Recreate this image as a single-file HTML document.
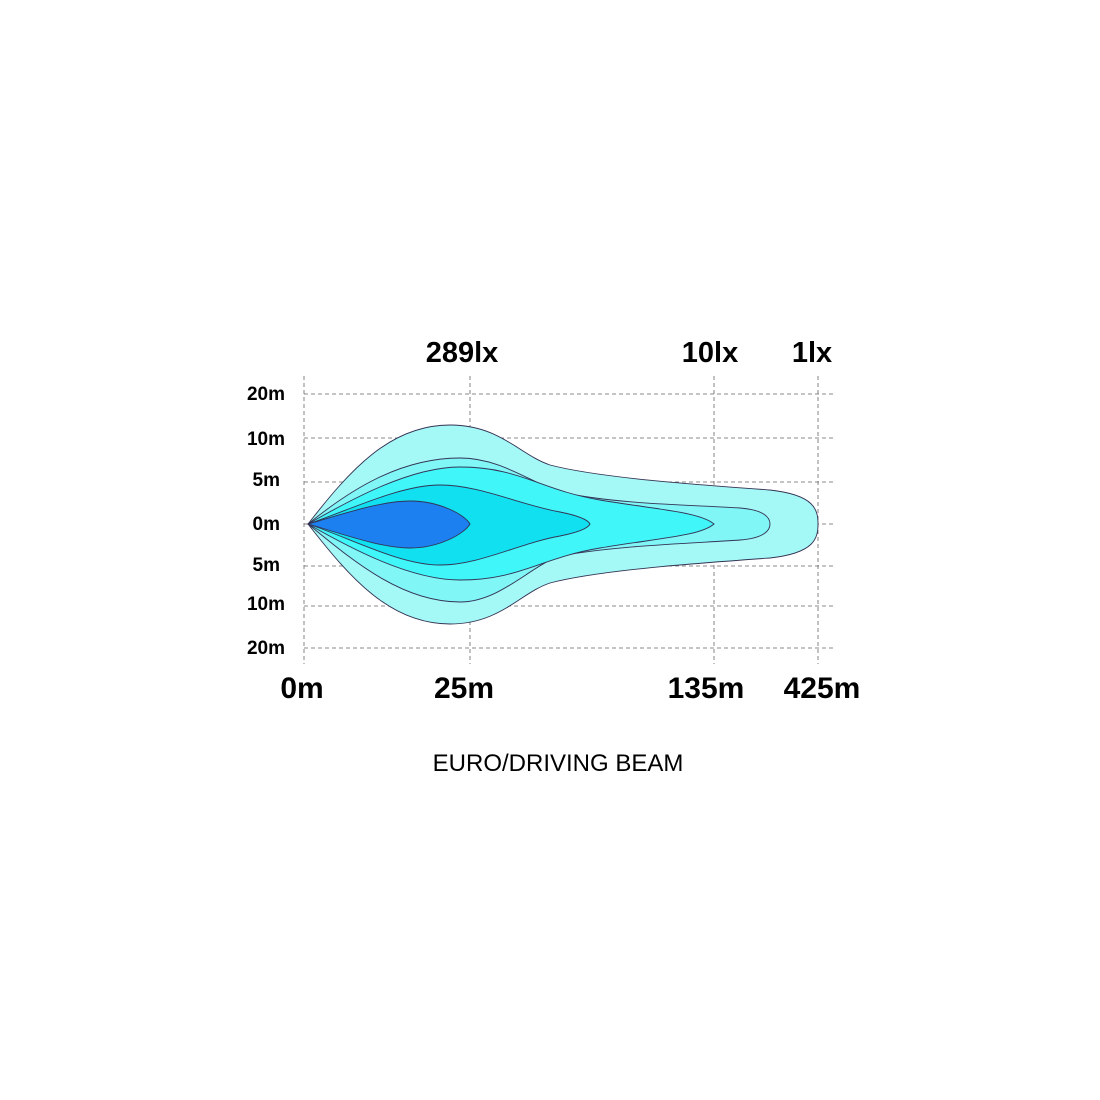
<!DOCTYPE html>
<html><head><meta charset="utf-8"><style>
html,body{margin:0;padding:0;background:#fff;}
svg{display:block;}
text{font-family:"Liberation Sans",Arial,sans-serif;fill:#000;}
</style></head><body>
<svg width="1100" height="1100" viewBox="0 0 1100 1100">
<g stroke="#666" stroke-width="0.8" stroke-dasharray="4,3">
<line x1="304" y1="376" x2="304" y2="664"/>
<line x1="470" y1="376" x2="470" y2="664"/>
<line x1="714" y1="376" x2="714" y2="664"/>
<line x1="818" y1="376" x2="818" y2="664"/>
<line x1="304" y1="394" x2="834" y2="394"/>
<line x1="304" y1="438" x2="834" y2="438"/>
<line x1="304" y1="482" x2="834" y2="482"/>
<line x1="304" y1="524" x2="834" y2="524"/>
<line x1="304" y1="566" x2="834" y2="566"/>
<line x1="304" y1="606" x2="834" y2="606"/>
<line x1="304" y1="648" x2="834" y2="648"/>
</g>
<g stroke="#335" stroke-width="0.9">
<path fill="#a4f8f6" d="M308,524 C350,470 390,425 450,425 C500,425 520,455 550,465 C600,478 700,485 770,490 C815,495 818,510 818,524 C818,538 815,553 770,558 C700,563 600,570 550,583 C520,593 500,624 450,624 C390,624 350,578 308,524Z"/>
<path fill="#80f6f6" d="M308,524 C350,490 400,458 460,458 C500,458 530,482 560,492 C620,505 700,505 740,508 C765,510 770,518 770,524 C770,530 765,538 740,540 C700,543 620,545 560,556 C530,566 500,602 460,602 C400,602 350,558 308,524Z"/>
<path fill="#40f6f8" d="M308,524 C350,500 410,467 460,467 C520,467 540,490 600,500 C660,510 700,512 714,524 C700,536 660,538 600,548 C540,558 520,580 460,580 C410,580 350,548 308,524Z"/>
<path fill="#10e0f0" d="M308,524 C350,510 400,485 440,485 C480,485 520,505 560,512 C580,516 588,520 590,524 C588,528 580,532 560,536 C520,543 480,565 440,565 C400,565 350,538 308,524Z"/>
<path fill="#1c80f0" d="M308,524 C340,515 380,501 410,501 C440,501 465,515 470,524 C465,533 440,548 410,548 C380,548 340,533 308,524Z"/>
</g>
<g font-weight="bold" font-size="29" text-anchor="middle">
<text x="462" y="362">289lx</text>
<text x="710" y="362">10lx</text>
<text x="812" y="362">1lx</text>
</g>
<g font-weight="bold" font-size="30" text-anchor="middle">
<text x="302" y="698">0m</text>
<text x="464" y="698">25m</text>
<text x="706" y="698">135m</text>
<text x="822" y="698">425m</text>
</g>
<g font-weight="bold" font-size="19" text-anchor="end">
<text x="285" y="400">20m</text>
<text x="285" y="445">10m</text>
<text x="280" y="486">5m</text>
<text x="280" y="530">0m</text>
<text x="280" y="571">5m</text>
<text x="285" y="610">10m</text>
<text x="285" y="654">20m</text>
</g>
<text x="558" y="771" font-size="24" text-anchor="middle">EURO/DRIVING BEAM</text>
</svg>
</body></html>
